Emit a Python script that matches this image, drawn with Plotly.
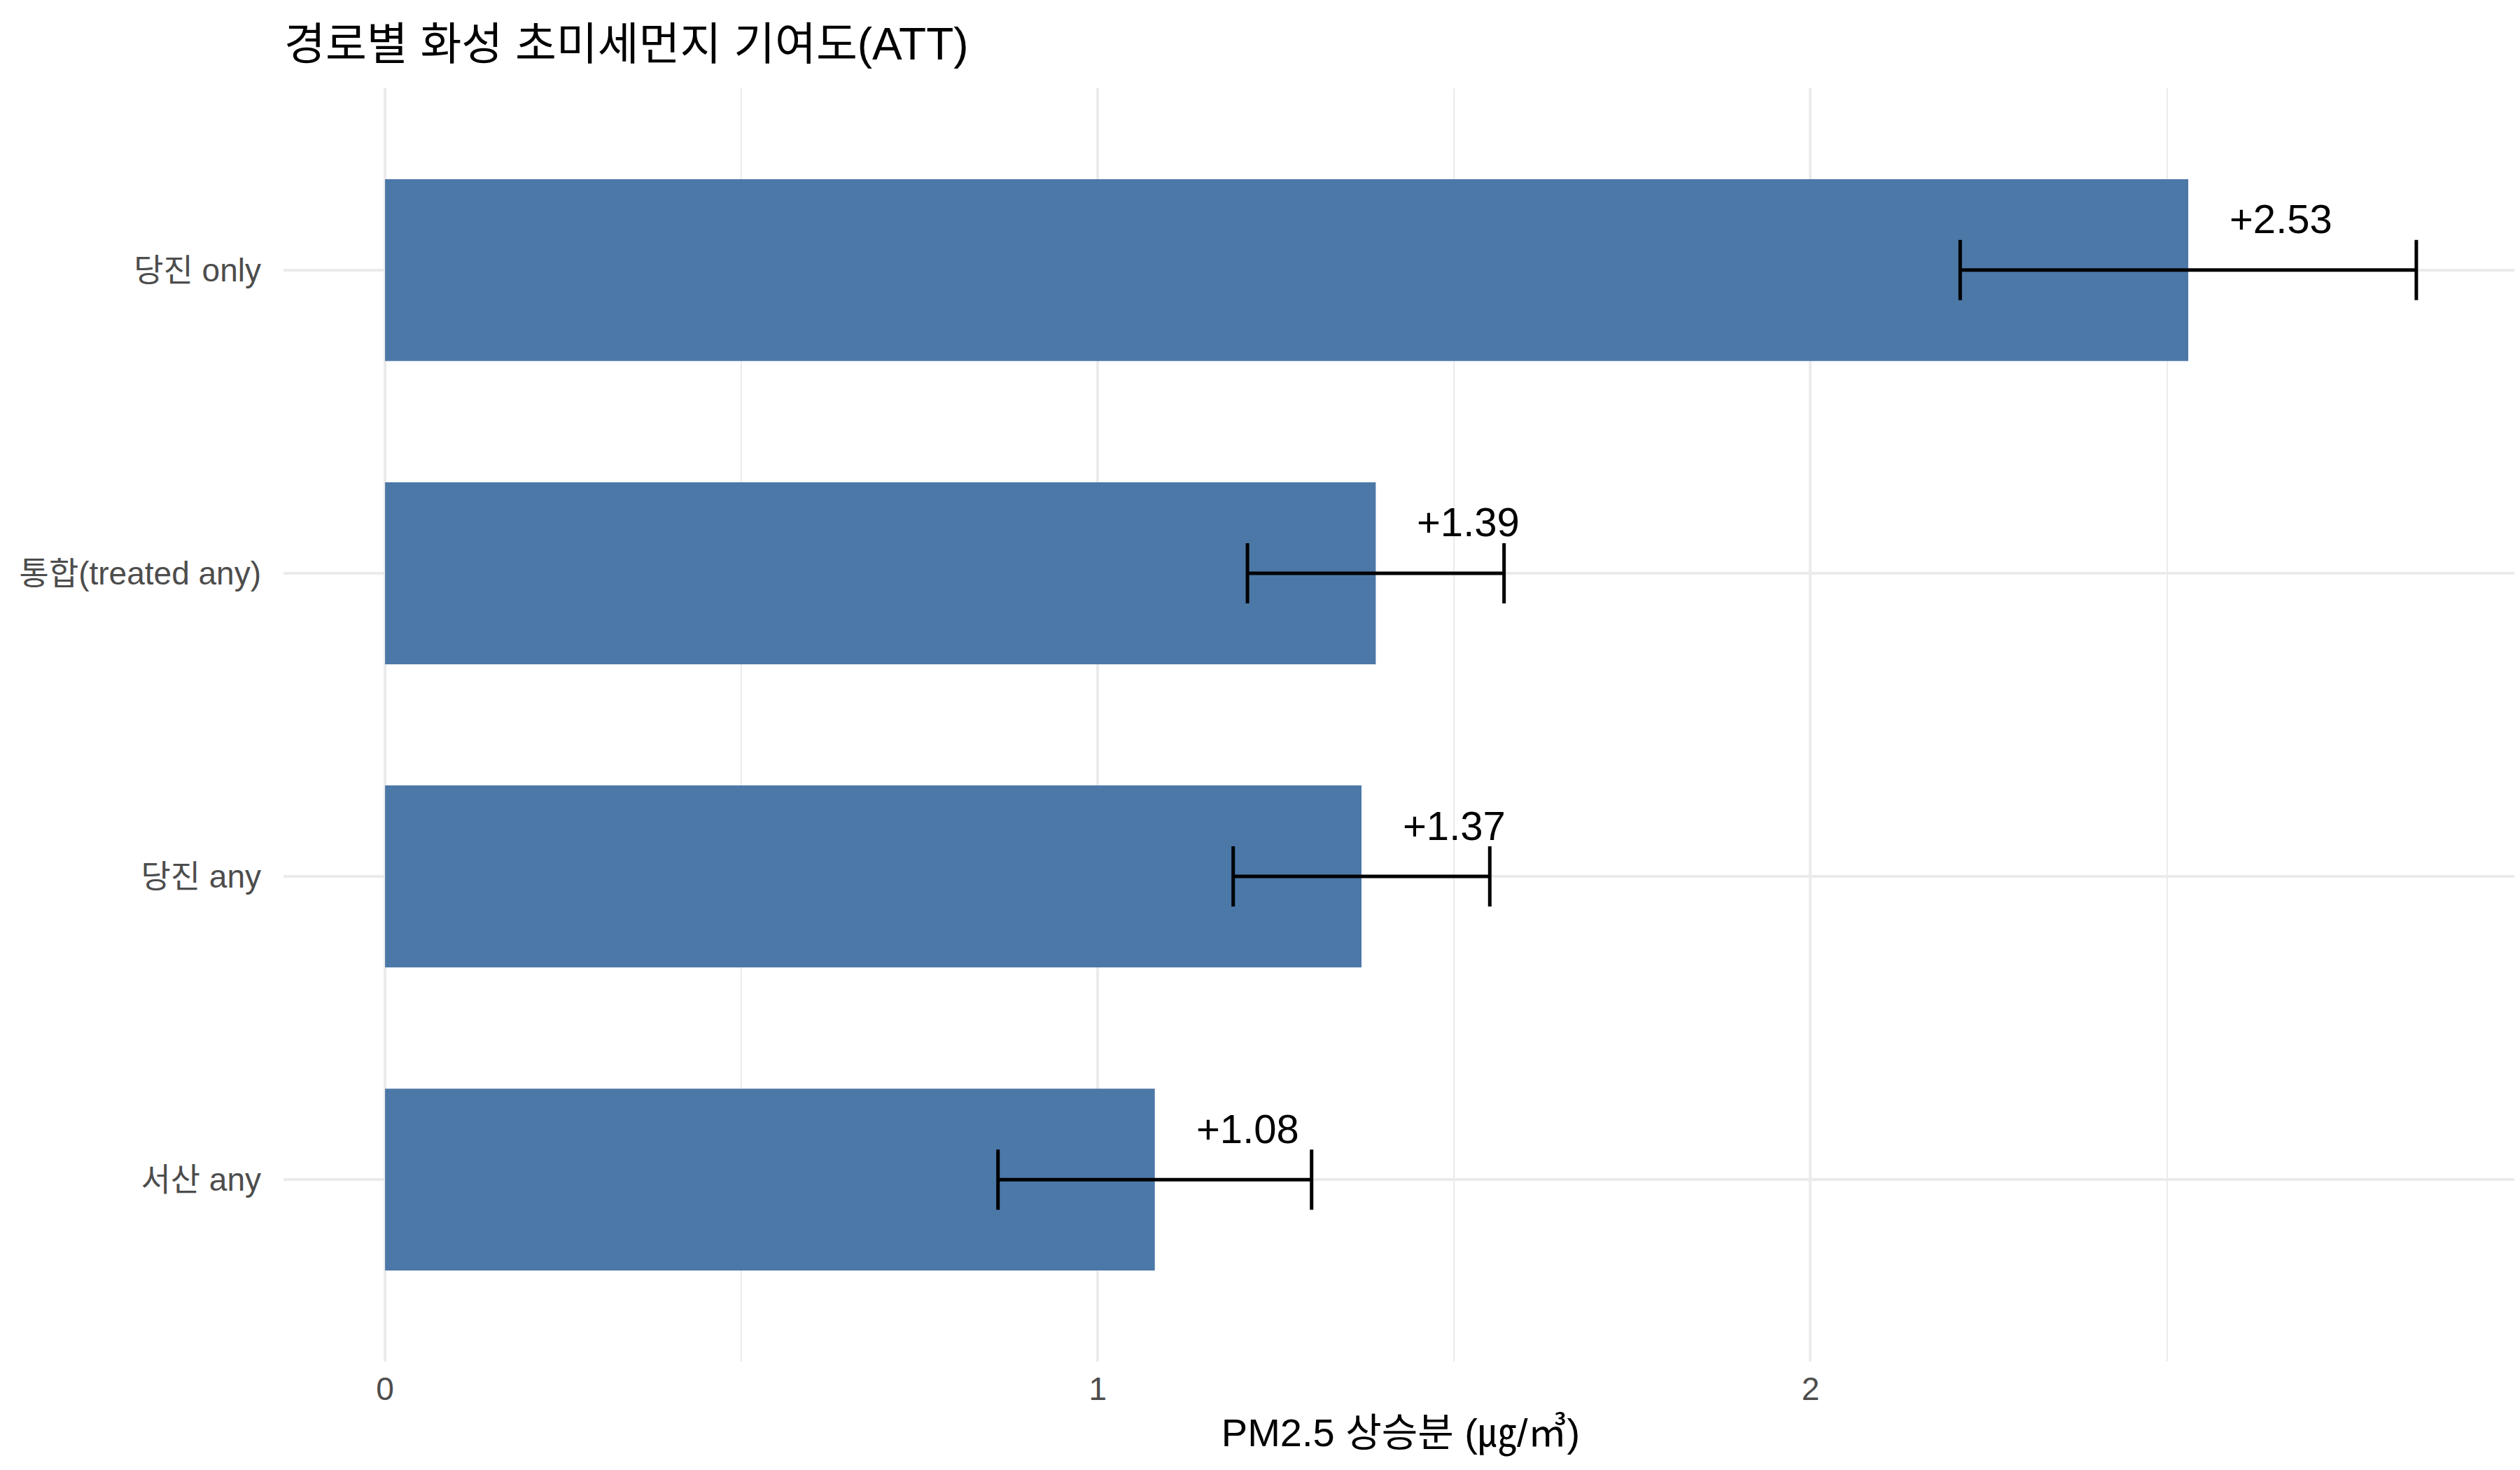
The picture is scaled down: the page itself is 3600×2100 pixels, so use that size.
import plotly.graph_objects as go

# bottom -> top, as drawn
routes = ["서산 any", "당진 any", "통합(treated any)", "당진 only"]
att = [1.08, 1.37, 1.39, 2.53]
ci_low = [0.86, 1.19, 1.21, 2.21]
ci_high = [1.30, 1.55, 1.57, 2.85]
x_ticks = [0, 1, 2]
x_minor = [0.5, 1.5, 2.5]

FONT = "Liberation Sans, Noto Sans CJK KR, sans-serif"
GRID = "#EBEBEB"

fig = go.Figure()
fig.add_trace(go.Bar(
    x=att, y=routes, orientation="h", width=0.6,
    marker=dict(color="#4C78A8", line_width=0),
    error_x=dict(type="data", symmetric=False,
                 array=[h - a for h, a in zip(ci_high, att)],
                 arrayminus=[a - l for a, l in zip(att, ci_low)],
                 color="black", thickness=5, width=43),
    hoverinfo="skip",
))

for r, a in zip(routes, att):
    fig.add_annotation(x=a + 0.13, y=r, text=f"+{a:.2f}", showarrow=False,
                       yshift=73, font=dict(family=FONT, size=58, color="black"))

fig.update_layout(
    width=3600, height=2100,
    margin=dict(l=397, r=11, t=118, b=163),
    paper_bgcolor="white", plot_bgcolor="white",
    showlegend=False,
    font=dict(family=FONT),
    title=dict(text="경로별 화성 초미세먼지 기여도(ATT)", x=398 / 3600, xanchor="left",
               y=1 - 55 / 2100, yanchor="middle",
               font=dict(family=FONT, size=64, color="black")),
    xaxis=dict(range=[-0.1425, 2.9925], tickvals=x_ticks, showgrid=True,
               gridcolor=GRID, gridwidth=4.4, zeroline=False, showline=False,
               tickfont=dict(size=46, color="#4D4D4D"), ticklabelstandoff=8,
               minor=dict(tickvals=x_minor, showgrid=True, gridcolor=GRID, gridwidth=2.2),
               title=dict(text="PM2.5 상승분 (㎍/㎥)", standoff=17,
                          font=dict(size=56, color="black"))),
    yaxis=dict(range=[-0.6, 3.6], showgrid=True, gridcolor=GRID, gridwidth=4.4,
               zeroline=False, showline=False, ticklabelstandoff=31,
               tickfont=dict(size=46, color="#4D4D4D")),
)

fig.write_html("out.html")
